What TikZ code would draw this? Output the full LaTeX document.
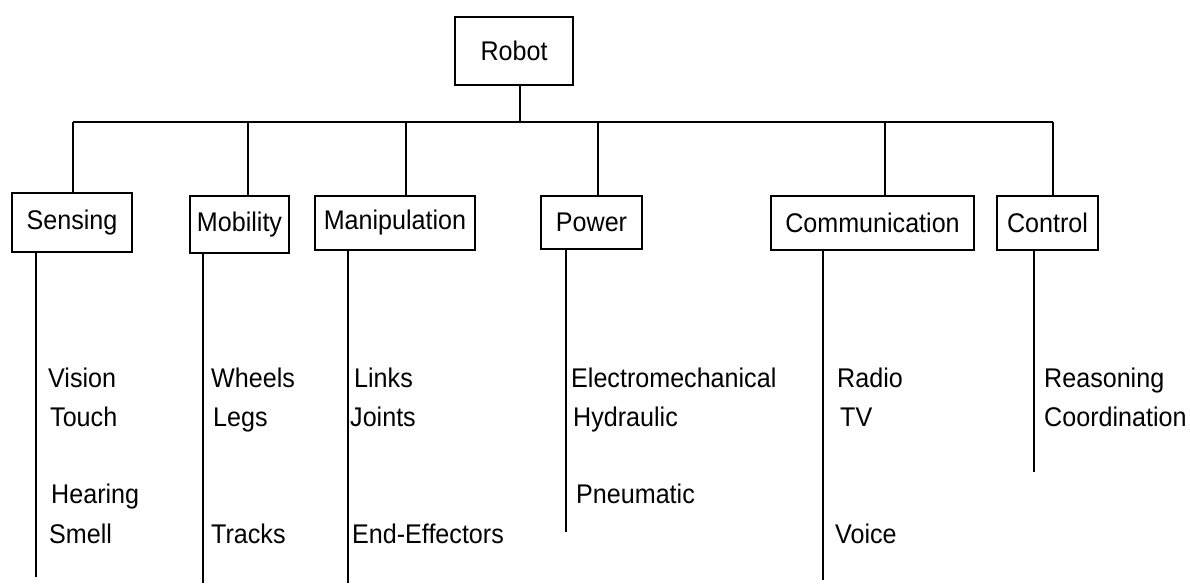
\documentclass[tikz,border=0pt]{standalone}
\usepackage{fontspec}
\setmainfont{Liberation Sans}[FakeStretch=0.93]
\begin{document}
\begin{tikzpicture}[x=1pt,y=-1pt,
  every node/.style={font=\fontsize{27}{32}\selectfont, inner sep=0pt},
  catbox/.style={draw, line width=2pt, rectangle, minimum height=#1},
  catbox/.default=54pt,
  conn/.style={line width=2pt},
  item/.style={anchor=base west}]
\useasboundingbox (0,0) rectangle (1190,583);
% boxes
\node[catbox=68pt, minimum width=118pt] (robot) at (514,51) {Robot};
\node[catbox=59pt, minimum width=120pt] (sens) at (72,222.5) {Sensing};
\node[catbox=57pt, minimum width=99pt] (mob) at (239.5,224.5) {Mobility};
\node[catbox, minimum width=160pt] (man) at (395,223) {Manipulation};
\node[catbox=53pt, minimum width=101pt] (pow) at (591.5,222.5) {Power};
\node[catbox, minimum width=203pt] (com) at (872.5,223) {Communication};
\node[catbox, minimum width=101pt] (ctl) at (1047.5,223) {Control};
% bus
\coordinate (bR) at (520,122);
\coordinate (b1) at (73,122);
\coordinate (b2) at (248,122);
\coordinate (b3) at (406,122);
\coordinate (b4) at (598,122);
\coordinate (b5) at (885,122);
\coordinate (b6) at (1053,122);
\draw[conn] (robot.south -| bR) -- (bR);
\draw[conn] (b1) -- (b6);
\draw[conn] (b1) -- (b1 |- sens.north);
\draw[conn] (b2) -- (b2 |- mob.north);
\draw[conn] (b3) -- (b3 |- man.north);
\draw[conn] (b4) -- (b4 |- pow.north);
\draw[conn] (b5) -- (b5 |- com.north);
\draw[conn] (b6) -- (b6 |- ctl.north);
% down lines
\coordinate (e1) at (36,577);
\coordinate (e2) at (203,583);
\coordinate (e3) at (348,583);
\coordinate (e4) at (566,532);
\coordinate (e5) at (823,580);
\coordinate (e6) at (1034,472);
\draw[conn] (sens.south -| e1) -- (e1);
\draw[conn] (mob.south -| e2) -- (e2);
\draw[conn] (man.south -| e3) -- (e3);
\draw[conn] (pow.south -| e4) -- (e4);
\draw[conn] (com.south -| e5) -- (e5);
\draw[conn] (ctl.south -| e6) -- (e6);
% items
\node[item] (vision) at (48,387) {Vision};
\node[item] (touch) at (50,426) {Touch};
\node[item] (hearing) at (51,503) {Hearing};
\node[item] (smell) at (49,543) {Smell};
\node[item] (wheels) at (211,387) {Wheels};
\node[item] (legs) at (213,426) {Legs};
\node[item] (tracks) at (211,543) {Tracks};
\node[item] (links) at (354,387) {Links};
\node[item] (joints) at (350,426) {Joints};
\node[item] (endeff) at (352,543) {End-Effectors};
\node[item] (electro) at (571,387) {Electromechanical};
\node[item] (hydr) at (573,426) {Hydraulic};
\node[item] (pneu) at (576,503) {Pneumatic};
\node[item] (radio) at (837,387) {Radio};
\node[item] (tv) at (840,426) {TV};
\node[item] (voice) at (835,543) {Voice};
\node[item] (reason) at (1044,387) {Reasoning};
\node[item] (coord) at (1044,426) {Coordination};
\end{tikzpicture}
\end{document}
